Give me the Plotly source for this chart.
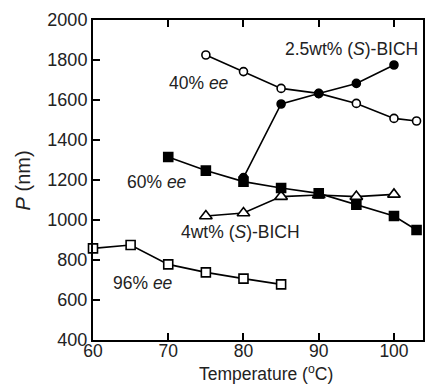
import plotly.graph_objects as go

# Data
T_40 = [75, 80, 85, 90, 95, 100, 103]
P_40 = [1825, 1742, 1658, 1633, 1583, 1508, 1495]

T_25 = [80, 85, 90, 95, 100]
P_25 = [1212, 1580, 1632, 1683, 1775]

T_60 = [70, 75, 80, 85, 90, 95, 100, 103]
P_60 = [1315, 1247, 1192, 1160, 1133, 1077, 1020, 950]

T_4 = [75, 80, 85, 90, 95, 100]
P_4 = [1020, 1035, 1117, 1125, 1117, 1128]

T_96 = [60, 65, 70, 75, 80, 85]
P_96 = [858, 875, 778, 738, 707, 678]

x_ticks = [60, 70, 80, 90, 100]
y_ticks = [400, 600, 800, 1000, 1200, 1400, 1600, 1800, 2000]

FONT = "Arial, Liberation Sans, sans-serif"

fig = go.Figure()

def add(T, P, symbol, filled, size):
    fig.add_trace(go.Scatter(
        x=T, y=P, mode="lines+markers",
        line=dict(color="black", width=1.6),
        marker=dict(symbol=symbol, size=size,
                    color="black" if filled else "white",
                    line=dict(color="black", width=1.6)),
        showlegend=False, cliponaxis=False))

add(T_96, P_96, "square", False, 9)
add(T_4, P_4, "triangle-up", False, 11)
add(T_60, P_60, "square", True, 9)
add(T_40, P_40, "circle", False, 8)
add(T_25, P_25, "circle", True, 8)

labels = [
    (353, 49, "2.5wt% (<i>S</i>)-BICH"),
    (200, 83, "40% <i>ee</i>"),
    (157, 182, "60% <i>ee</i>"),
    (241, 232, "4wt% (<i>S</i>)-BICH"),
    (143, 283, "96% <i>ee</i>"),
]

L, R, Tm, B = 93, 0, 20, 44
W, H = 425, 384
pw, ph = W - L - R, H - Tm - B
x_min = 60
x_max = 60 + (W - L) / 7.57
for px, py, txt in labels:
    fig.add_annotation(x=(px - L) / pw, y=1 - (py - Tm) / ph, xref="paper", yref="paper",
                       text=txt, showarrow=False, xanchor="center", yanchor="middle",
                       font=dict(family=FONT, size=17.5, color="#222"))

fig.add_annotation(x=(23 - L) / pw, y=0.5, xref="paper", yref="paper",
                   text="<i>P</i> (nm)", textangle=-90, showarrow=False,
                   xanchor="center", yanchor="middle",
                   font=dict(family=FONT, size=20, color="#222"))

fig.add_annotation(x=(267 - L) / pw, y=1 - (373 - Tm) / ph, xref="paper", yref="paper",
                   text="Temperature (<sup>o</sup>C)", showarrow=False,
                   xanchor="center", yanchor="middle",
                   font=dict(family=FONT, size=17.5, color="#222"))

fig.update_layout(
    width=W, height=H,
    margin=dict(l=L, r=R, t=Tm, b=B),
    plot_bgcolor="white", paper_bgcolor="white",
    font=dict(family=FONT, color="#222"),
    xaxis=dict(range=[x_min, x_max], tickvals=x_ticks, ticks="inside", ticklen=7,
               tickwidth=2, tickcolor="black", showline=True, linecolor="black",
               linewidth=2, mirror="ticks", showgrid=False, zeroline=False,
               ticklabelstandoff=-6,
               tickfont=dict(size=17.5, family=FONT, color="#222")),
    yaxis=dict(range=[400, 2000], tickvals=y_ticks, ticks="inside", ticklen=7,
               tickwidth=2, tickcolor="black", showline=True, linecolor="black",
               linewidth=2, mirror=True, showgrid=False, zeroline=False,
               tickfont=dict(size=18, family=FONT, color="#222")),
)

fig.write_html("out.html")
